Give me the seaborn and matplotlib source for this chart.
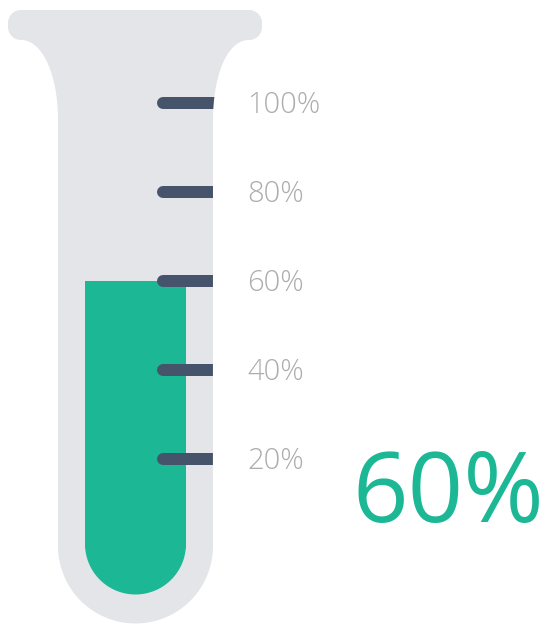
import numpy as np
import matplotlib
matplotlib.use("Agg")
import matplotlib.pyplot as plt
from matplotlib.path import Path
from matplotlib.patches import PathPatch
from matplotlib.transforms import Affine2D, offset_copy
import seaborn as sns

# --- data -------------------------------------------------------------
level_values = [20, 40, 60, 80, 100]
level_labels = ["20%", "40%", "60%", "80%", "100%"]
fill_value = 60
fill_label = "60%"

# --- style ------------------------------------------------------------
sns.set_style("white")
plt.rcParams["font.family"] = ["Open Sans", "DejaVu Sans"]

TUBE = "#e4e5e9"
GREEN = "#1cb895"
TICK = "#46546b"
LABEL = "#adadad"

W, H, DPI = 549, 624, 100
fig = plt.figure(figsize=(W / DPI, H / DPI), dpi=DPI)
fig.patch.set_facecolor("white")

# pixel-space transform (origin top-left, y down) for the glass outline
px = Affine2D().scale(1 / DPI, -1 / DPI).translate(0, H / DPI) + fig.dpi_scale_trans

# percent scale: 0 % sits at y=548 px, each percent is 4.45 px
ZERO_PX, PX_PER_PCT = 548.0, 4.45
YLIM = ((ZERO_PX - H) / PX_PER_PCT, ZERO_PX / PX_PER_PCT)


def bezier(p0, p1, p2, p3, n=40):
    t = np.linspace(0, 1, n)[:, None]
    p0, p1, p2, p3 = map(np.asarray, (p0, p1, p2, p3))
    return ((1 - t) ** 3) * p0 + 3 * ((1 - t) ** 2) * t * p1 + 3 * (1 - t) * t ** 2 * p2 + t ** 3 * p3


def arc(cx, cy, r, a0, a1, n=30):
    a = np.radians(np.linspace(a0, a1, n))
    return np.column_stack([cx + r * np.cos(a), cy + r * np.sin(a)])


# glass outline: lip, flared neck, straight body, round bottom
L, R = 8, 262          # lip extent
TOP, LIPB = 10, 40     # lip top / bottom
rr = 13                # lip corner radius
BL, BR = 58, 213       # body walls
NECK = 120             # where the flare becomes straight
CX = (BL + BR) / 2
CY = 546
RO = (BR - BL) / 2

pts = np.vstack([
    arc(L + rr, TOP + rr, rr, 180, 270),
    arc(R - rr, TOP + rr, rr, 270, 360),
    arc(R - rr, LIPB - rr, rr, 0, 90),
    bezier((R - rr, LIPB), (R - rr - 22, LIPB), (BR, 76), (BR, NECK)),
    [[BR, CY]],
    arc(CX, CY, RO, 0, 180, 60),
    [[BL, NECK]],
    bezier((BL, NECK), (BL, 76), (L + rr + 22, LIPB), (L + rr, LIPB)),
    arc(L + rr, LIPB - rr, rr, 90, 180),
])
glass_path = Path(np.vstack([pts, pts[:1]]))

# back layer: glass and round bottom of the liquid
ax_back = fig.add_axes([0, 0, 1, 1])
ax_back.set_axis_off()
ax_back.add_patch(PathPatch(glass_path, transform=px, facecolor=TUBE, edgecolor="none"))
RI = 50.5
bottom = np.vstack([arc(CX, CY - 2, RI, 0, 180, 60), [[CX + RI, CY - 2]]])
ax_back.add_patch(PathPatch(Path(bottom), transform=px, facecolor=GREEN, edgecolor="none"))

# liquid column drawn as a seaborn bar
ax_fill = fig.add_axes([(CX - RI) / W, 0, (2 * RI) / W, 1])
ax_fill.set_zorder(1)
ax_fill.patch.set_alpha(0)
sns.barplot(x=["level"], y=[fill_value], color=GREEN, saturation=1, width=1,
            linewidth=0, ax=ax_fill)
ax_fill.set_xlim(-0.5, 0.5)
ax_fill.set_ylim(*YLIM)
ax_fill.set_axis_off()

# front layer: scale marks, labels and readout
ax = fig.add_axes([0, 0, 1, 1])
ax.set_zorder(2)
ax.patch.set_alpha(0)
ax.set_xlim(0, W)
ax.set_ylim(*YLIM)
ax.set_axis_off()

# labels sit a couple of pixels below the mark's centre line
label_tf = offset_copy(ax.transData, fig=fig, x=0, y=-2, units="dots")
for v, lab in zip(level_values, level_labels):
    ln, = ax.plot([163, 240], [v, v], color=TICK, lw=12 * 72 / DPI,
                  solid_capstyle="round")
    ln.set_clip_path(glass_path, px)
    ax.text(247, v, lab, color=LABEL, fontsize=21, fontweight="light",
            ha="left", va="center", transform=label_tf)

ax.text(352, (ZERO_PX - 522) / PX_PER_PCT, fill_label, color=GREEN,
        fontsize=70, fontweight="normal", ha="left", va="baseline")

fig.savefig("out.png", dpi=DPI, facecolor="white")
